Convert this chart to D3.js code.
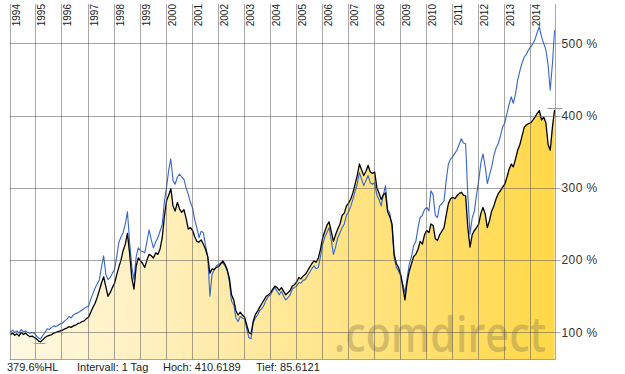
<!DOCTYPE html>
<html>
<head>
<meta charset="utf-8">
<script src="https://cdn.jsdelivr.net/npm/d3@7"></script>
<style>
  html, body { margin: 0; padding: 0; background: #fff; }
  svg { display: block; }
  text { font-family: "Liberation Sans", Arial, sans-serif; }
</style>
</head>
<body>
<svg id="chart" width="625" height="374"></svg>
<script>
// ---- data (monthly values, %), Jan 1994 .. Dec 2014 ----
const startYear = 1994;
const yearLabels = ["1994","1995","1996","1997","1998","1999","2000","2001","2002","2003","2004",
  "2005","2006","2007","2008","2009","2010","2011","2012","2013","2014"];
const yTicks = [100, 200, 300, 400, 500];
const mainSeries = [
  97, 99, 96, 98, 95, 100, 97, 99, 96, 94, 95, 93,          // 1994
  91, 88, 87, 90, 93, 95, 96, 97, 99, 100, 101, 102,        // 1995
  103, 105, 106, 108, 107, 109, 110, 112, 113, 115, 116, 119, // 1996
  121, 128, 134, 140, 148, 158, 168, 177, 163, 150, 155, 162, // 1997
  168, 180, 190, 200, 213, 222, 237, 209, 175, 160, 192, 203, // 1998
  199, 195, 190, 200, 208, 206, 203, 210, 208, 215, 231, 260, // 1999
  282, 290, 299, 275, 268, 280, 271, 266, 270, 258, 243, 245, // 2000
  241, 232, 226, 225, 228, 222, 215, 205, 182, 188, 187, 190, // 2001
  191, 195, 199, 194, 187, 175, 152, 145, 130, 124, 128, 124, // 2002
  121, 110, 100, 98, 115, 125, 129, 135, 140, 145, 150, 152,  // 2003
  155, 160, 164, 162, 158, 162, 157, 152, 155, 158, 164, 166, // 2004
  170, 176, 174, 178, 180, 185, 190, 195, 199, 197, 203, 215, // 2005
  231, 240, 248, 253, 240, 226, 235, 243, 250, 262, 265, 275, // 2006
  279, 285, 293, 305, 317, 333, 325, 317, 323, 331, 322, 320, // 2007
  322, 300, 293, 284, 290, 293, 267, 260, 250, 208, 195, 190, // 2008
  180, 162, 145, 170, 185, 195, 205, 208, 215, 226, 222, 235, // 2009
  241, 238, 250, 248, 230, 227, 235, 240, 245, 262, 278, 285, // 2010
  287, 285, 289, 292, 294, 290, 289, 245, 218, 235, 241, 245, // 2011
  250, 265, 273, 264, 245, 255, 268, 275, 285, 292, 296, 301, // 2012
  305, 315, 325, 333, 329, 340, 352, 360, 372, 384, 387, 389, // 2013
  390, 394, 398, 403, 407, 394, 398, 390, 360, 352, 384, 408  // 2014
];
const benchmarkSeries = [
  101, 103, 100, 102, 99, 104, 101, 102, 100, 99, 100, 99,    // 1994
  95, 92, 91, 96, 100, 105, 104, 107, 109, 108, 110, 112,     // 1995
  113, 116, 118, 122, 120, 124, 126, 127, 129, 131, 133, 135, // 1996
  136, 146, 153, 161, 167, 173, 190, 206, 180, 173, 176, 182, // 1997
  187, 205, 224, 232, 238, 250, 267, 224, 190, 173, 205, 217, // 1998
  213, 212, 210, 226, 242, 228, 217, 225, 231, 240, 249, 280, // 1999
  301, 325, 340, 310, 305, 315, 319, 315, 312, 300, 291, 280, // 2000
  272, 255, 245, 231, 240, 238, 220, 205, 150, 180, 187, 192, // 2001
  194, 196, 196, 192, 185, 170, 143, 138, 120, 115, 122, 120, // 2002
  118, 105, 93, 91, 113, 120, 124, 130, 133, 138, 145, 150,   // 2003
  152, 158, 162, 157, 152, 157, 150, 145, 148, 152, 160, 162, // 2004
  164, 169, 168, 172, 173, 178, 183, 188, 192, 188, 190, 205, // 2005
  222, 232, 238, 245, 228, 208, 218, 231, 238, 245, 250, 262, // 2006
  267, 275, 284, 295, 305, 321, 312, 303, 310, 317, 307, 305, // 2007
  307, 290, 284, 275, 290, 303, 270, 265, 245, 203, 190, 185, // 2008
  178, 166, 155, 175, 195, 205, 220, 226, 245, 259, 262, 270, // 2009
  273, 268, 296, 290, 262, 259, 275, 278, 282, 310, 333, 340, // 2010
  343, 348, 352, 360, 368, 362, 361, 290, 236, 258, 268, 290, // 2011
  310, 335, 347, 329, 306, 318, 329, 345, 355, 361, 372, 384, // 2012
  390, 403, 415, 426, 417, 430, 449, 462, 473, 481, 485, 491, // 2013
  495, 500, 505, 515, 523, 509, 500, 491, 470, 435, 472, 518  // 2014
];
const footerTexts = ["379.6%HL", "Intervall: 1 Tag", "Hoch: 410.6189", "Tief: 85.6121"];
const highValue = 410.6189, lowValue = 85.6121;
const lowDate = new Date(1995, 2, 10);

// ---- build ----
const mainData = mainSeries.map((v, i) => ({ date: new Date(startYear, i, 15), v }));
const benchData = benchmarkSeries.map((v, i) => ({ date: new Date(startYear, i, 15), v }));

const svg = d3.select("#chart");
const pLeft = 9.5, pRight = 555.5, pTop = 4, pBottom = 359.5;

const x = d3.scaleTime()
  .domain([new Date(1994, 0, 1), new Date(2014, 11, 28)])
  .range([pLeft, pRight]);
const y = d3.scaleLinear().domain([62.5, 553]).range([pBottom, pTop + 1]);

// gradient
const defs = svg.append("defs");
const grad = defs.append("linearGradient").attr("id", "fillGrad")
  .attr("x1", "0%").attr("x2", "100%").attr("y1", "0%").attr("y2", "0%");
grad.append("stop").attr("offset", "0%").attr("stop-color", "#fff9e4");
grad.append("stop").attr("offset", "45%").attr("stop-color", "#ffe9a0");
grad.append("stop").attr("offset", "100%").attr("stop-color", "#ffd848");
defs.append("clipPath").attr("id", "plotClip").append("rect")
  .attr("x", pLeft).attr("y", 0).attr("width", pRight - pLeft).attr("height", pBottom);

const plot = svg.append("g").attr("clip-path", "url(#plotClip)");

// area
plot.append("path").datum(mainData)
  .attr("fill", "url(#fillGrad)")
  .attr("d", d3.area().x(d => x(d.date)).y0(pBottom).y1(d => y(d.v)));

// watermark (horizontally condensed)
svg.append("text")
  .attr("transform", "translate(334,352) scale(0.86,1)")
  .style("font-family", "'Open Sans', 'DejaVu Sans', sans-serif")
  .style("font-size", "48px").style("font-weight", 600)
  .attr("fill", "#8c7c4e").attr("fill-opacity", 0.38)
  .text(".comdirect");

// grid
const gridColor = "rgba(80,80,80,0.5)";
const yearTicks = yearLabels.map(s => new Date(+s, 0, 1));
const grid = svg.append("g");
grid.selectAll("line.v").data(yearTicks).join("line")
  .attr("x1", d => Math.round(x(d)) + 0.5).attr("x2", d => Math.round(x(d)) + 0.5)
  .attr("y1", pTop).attr("y2", pBottom)
  .attr("stroke", gridColor).attr("stroke-width", 1);
grid.selectAll("line.h").data(yTicks).join("line")
  .attr("x1", pLeft).attr("x2", pRight + 5)
  .attr("y1", d => Math.round(y(d)) + 0.5).attr("y2", d => Math.round(y(d)) + 0.5)
  .attr("stroke", gridColor).attr("stroke-width", 1);
// frame: right & bottom
grid.append("line").attr("x1", pRight).attr("x2", pRight).attr("y1", pTop).attr("y2", pBottom)
  .attr("stroke", gridColor);
grid.append("line").attr("x1", pLeft).attr("x2", pRight).attr("y1", pBottom).attr("y2", pBottom)
  .attr("stroke", gridColor);

// lines
const line = d3.line().x(d => x(d.date)).y(d => y(d.v));
plot.append("path").datum(benchData)
  .attr("fill", "none").attr("stroke", "#3465d0").attr("stroke-width", 1.1)
  .attr("stroke-linejoin", "round").attr("d", line);
plot.append("path").datum(mainData)
  .attr("fill", "none").attr("stroke", "#000").attr("stroke-width", 1.3)
  .attr("stroke-linejoin", "round").attr("d", line);

// high / low markers
svg.append("line").attr("x1", pRight - 8).attr("x2", pRight + 7)
  .attr("y1", Math.round(y(highValue)) + 0.5).attr("y2", Math.round(y(highValue)) + 0.5)
  .attr("stroke", "#999");
svg.append("line").attr("x1", x(lowDate) - 6).attr("x2", x(lowDate) + 5)
  .attr("y1", Math.round(y(lowValue)) + 0.5).attr("y2", Math.round(y(lowValue)) + 0.5)
  .attr("stroke", "#999");

// year labels
svg.append("g").selectAll("text").data(yearLabels).join("text")
  .attr("transform", d => `translate(${Math.round(x(new Date(+d, 0, 1))) + 10},4) rotate(-90)`)
  .attr("text-anchor", "end")
  .style("font-size", "10px").attr("fill", "#222")
  .text(d => d);

// right axis labels
const yAxis = d3.axisRight(y).tickValues(yTicks).tickSize(0).tickPadding(6)
  .tickFormat(d => d + " %");
const ya = svg.append("g").attr("transform", `translate(${pRight},0)`).call(yAxis);
ya.select(".domain").remove();
ya.selectAll("text").style("font-size", "12px").style("letter-spacing", "0.4px")
  .attr("fill", "#333").style("font-family", "'Liberation Sans', Arial, sans-serif");

// footer
const footerX = [7, 77, 163, 256];
svg.append("g").selectAll("text").data(footerTexts).join("text")
  .attr("x", (d, i) => footerX[i]).attr("y", 371)
  .style("font-size", "11px").attr("fill", "#222")
  .text(d => d);
</script>
</body>
</html>
